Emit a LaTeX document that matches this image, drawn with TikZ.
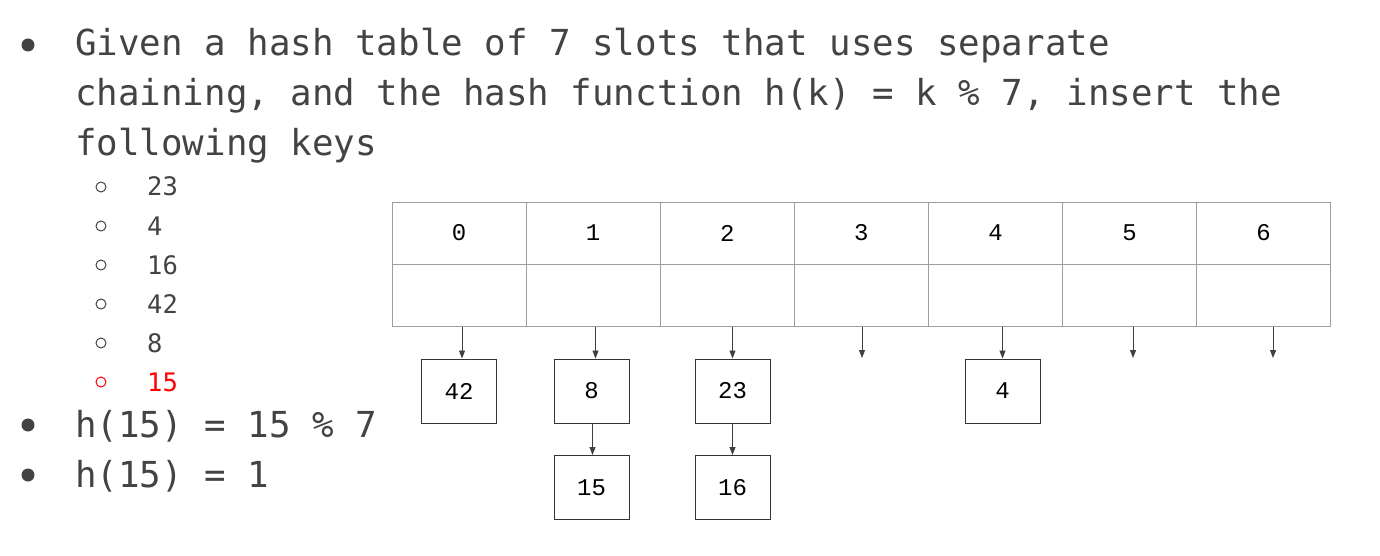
\documentclass[tikz,border=0pt]{standalone}
\usepackage{fontspec}
\usetikzlibrary{arrows.meta}
\setmonofont{DejaVu Sans Mono}
\newfontfamily\cellfont{Liberation Mono}
\definecolor{txt}{HTML}{434343}
\definecolor{grid}{HTML}{9E9E9E}
\begin{document}
\begin{tikzpicture}[x=1pt,y=-1pt,
  big/.style={anchor=base west,inner sep=0,font=\ttfamily\fontsize{35.8}{36}\selectfont,text=txt},
  small/.style={anchor=base west,inner sep=0,font=\ttfamily\fontsize{25.5}{25}\selectfont,text=txt},
  cell/.style={draw=grid,line width=1pt,minimum width=134.1pt,minimum height=62pt,inner sep=0,font=\cellfont\fontsize{24}{24}\selectfont},
  box/.style={draw=black!80,line width=1pt,minimum width=75pt,minimum height=64pt,inner sep=0,font=\cellfont\fontsize{24}{24}\selectfont},
  arr/.style={draw=black!75,line width=0.9pt,-{Triangle[length=8pt,width=6pt]}}]
\useasboundingbox (0,0) rectangle (1380,556);
% bullets
\foreach \y in {45,425,475} \fill[txt] (28,\y) circle (6.5);
\node[big] (l1) at (75,56) {Given a hash table of 7 slots that uses separate};
\node[big] (l2) at (75,106) {chaining, and the hash function h(k) = k \% 7, insert the};
\node[big] (l3) at (75,156) {following keys};
\foreach \k/\y/\c in {23/196/txt,4/235/txt,16/274/txt,42/313/txt,8/352/txt,15/391/red} {
  \draw[\c,line width=1pt] (101,\y-9) circle (5);
  \node[small,text=\c] at (147,\y) {\k};
}
\node[big] (l4) at (75,437) {h(15) = 15 \% 7};
\node[big] (l5) at (75,487) {h(15) = 1};
% table
\foreach \i in {0,...,6} {
  \node[cell] (h\i) at (392+67.05+134.1*\i,233) {\i};
  \node[cell] (b\i) at (392+67.05+134.1*\i,295) {};
}
\coordinate (e3) at (862,358);
\coordinate (e5) at (1133,358);
\coordinate (e6) at (1273,358);
\node[box] (n42) at (459,391) {42};
\node[box] (n8) at (591.5,391) {8};
\node[box] (n23) at (732.5,391) {23};
\node[box] (n4) at (1002.5,391) {4};
\node[box] (n15) at (591.5,487.5) {15};
\node[box] (n16) at (732.5,487.5) {16};
\draw[arr] ([xshift=3pt]b0.south -| n42) -- ([xshift=3pt]n42.north);
\draw[arr] ([xshift=4pt]b1.south -| n8) -- ([xshift=4pt]n8.north);
\draw[arr] (b2.south -| n23) -- (n23.north);
\draw[arr] (b3.south -| e3) -- (e3);
\draw[arr] (b4.south -| n4) -- (n4.north);
\draw[arr] (b5.south -| e5) -- (e5);
\draw[arr] (b6.south -| e6) -- (e6);
\draw[arr] ([xshift=1pt]n8.south) -- ([xshift=1pt]n15.north);
\draw[arr] (n23.south) -- (n16.north);
\end{tikzpicture}
\end{document}
